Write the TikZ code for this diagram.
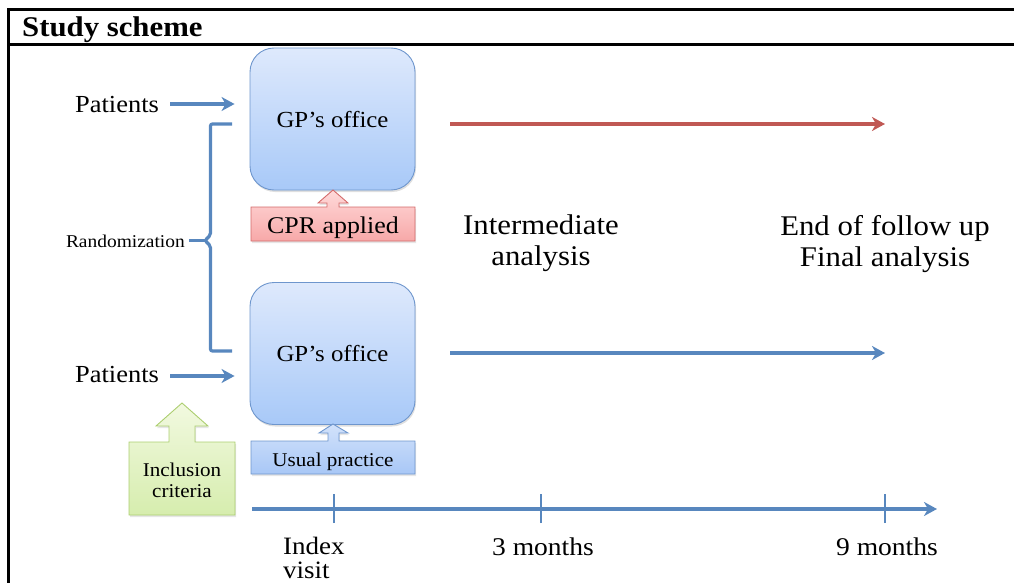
\documentclass[tikz,border=0pt]{standalone}
\usepackage{fontspec}
\setmainfont[FakeStretch=1.08]{Liberation Serif}
\usetikzlibrary{arrows.meta,shadows}
\definecolor{lblue}{RGB}{88,135,190}
\definecolor{lred}{RGB}{192,88,84}
\definecolor{gptop}{RGB}{222,233,252}
\definecolor{gpbot}{RGB}{168,201,248}
\definecolor{gpbd}{RGB}{110,150,205}
\definecolor{cprtop}{RGB}{255,218,218}
\definecolor{cprbot}{RGB}{247,168,168}
\definecolor{cprbd}{RGB}{212,106,106}
\definecolor{ustop}{RGB}{210,226,251}
\definecolor{usbot}{RGB}{168,199,246}
\definecolor{grtop}{RGB}{242,249,224}
\definecolor{grbot}{RGB}{214,237,174}
\definecolor{grbd}{RGB}{172,206,112}
\newcommand\fsz[1]{\fontsize{#1}{#1}\selectfont}
\begin{document}
\begin{tikzpicture}[x=1pt,y=-1pt,
  frame/.style={line width=3pt,black},
  lbl/.style={inner sep=0pt,text=black},
  gpbox/.style={draw=gpbd,line width=0.9pt,rounded corners=24pt,
    minimum width=165pt,minimum height=142pt,inner sep=0pt,
    top color=gptop,bottom color=gpbot,
    drop shadow={shadow xshift=1pt,shadow yshift=-2pt,opacity=0.25},
    font=\fsz{23}},
  tip/.style={-{Stealth[length=13pt,width=14pt,inset=4pt]}},
  bluearr/.style={lblue,line width=3.2pt,tip},
  redarr/.style={lred,line width=3.2pt,tip},
  bluel/.style={lblue,line width=3.2pt},
  cprshape/.style={draw=cprbd,line width=0.9pt,top color=cprtop,bottom color=cprbot,
    drop shadow={shadow xshift=1pt,shadow yshift=-2pt,opacity=0.2}},
  usshape/.style={draw=gpbd,line width=0.9pt,top color=ustop,bottom color=usbot,
    drop shadow={shadow xshift=1pt,shadow yshift=-2pt,opacity=0.2}},
  grshape/.style={draw=grbd,line width=0.9pt,top color=grtop,bottom color=grbot,
    drop shadow={shadow xshift=1pt,shadow yshift=-2pt,opacity=0.2}},
]
\useasboundingbox (0,0) rectangle (1014,583);

% frame
\draw[frame] (8.5,600) -- (8.5,10) -- (1020,10);
\draw[frame] (8.5,45) -- (1020,45);
\node[lbl,anchor=base west,font=\bfseries\fsz{28.5}] (title) at (22,37) {Study scheme};

% GP boxes
\node[gpbox,text depth=0pt] (gp1) at (332.5,119) {GP’s office};
\node[gpbox,text depth=0pt] (gp2) at (332.5,353.5) {GP’s office};

% Patients
\node[lbl,anchor=base,font=\fsz{24.5}] (pat1) at (117,113) {Patients};
\node[lbl,anchor=base,font=\fsz{24.5}] (pat2) at (117,382) {Patients};
\coordinate (y1) at (0,104);
\coordinate (y2) at (0,376);
\draw[bluearr,shorten <=11pt,shorten >=15pt] (pat1.east |- y1) -- (gp1.west |- y1);
\draw[bluearr,shorten <=11pt,shorten >=15pt] (pat2.east |- y2) -- (gp2.west |- y2);

% Randomization bracket
\node[lbl,anchor=base east,font=\fsz{18}] (rand) at (185,247) {Randomization};
\draw[bluel,rounded corners=2pt] (232,124) -- (210.5,124) -- (210.5,235) -- (205,240.5) -- (210.5,246) -- (210.5,351) -- (232,351);
\draw[bluel] (189,240.5) -- (205,240.5);

% CPR applied callout
\path[cprshape] (251,207) -- (327,207) -- (327,203) -- (318,203) -- (333,190) -- (348,203) -- (339,203) -- (339,207) -- (415,207) -- (415,241) -- (251,241) -- cycle;
\node[lbl,anchor=base,font=\fsz{24}] (cpr) at (333,233) {CPR applied};

% Usual practice callout
\path[usshape] (251,441) -- (328,441) -- (328,433) -- (319,433) -- (333,424) -- (348,433) -- (339,433) -- (339,441) -- (415,441) -- (415,474) -- (251,474) -- cycle;
\node[lbl,anchor=base,font=\fsz{19.5}] (usual) at (333,466) {Usual practice};

% Inclusion criteria callout
\path[grshape] (129,442) -- (169,442) -- (169,426) -- (156,426) -- (182,403) -- (208,426) -- (195,426) -- (195,442) -- (235,442) -- (235,515) -- (129,515) -- cycle;
\node[lbl,font={\fontsize{19.5}{21}\selectfont},align=center] (incl) at (182,480) {Inclusion\\criteria};

% follow-up arrows
\coordinate (r1) at (885,124);
\coordinate (b1) at (885,353);
\draw[redarr,shorten <=35pt] (gp1.east |- r1) -- (r1);
\draw[bluearr,shorten <=35pt] (gp2.east |- b1) -- (b1);

% analysis labels
\node[lbl,anchor=north,align=center,font={\fontsize{28.5}{31}\selectfont}] (inter) at (541,215) {Intermediate\\analysis};
\node[lbl,anchor=north,align=center,font={\fontsize{28.5}{31}\selectfont}] (final) at (885,215) {End of follow up\\Final analysis};

% timeline
\coordinate (t0) at (252,509);
\coordinate (t1) at (937,509);
\draw[bluearr] (t0) -- (t1);
\coordinate (k1) at (334,509);
\coordinate (k2) at (541,509);
\coordinate (k3) at (885,509);
\foreach \k in {k1,k2,k3}{\draw[lblue,line width=2.4pt] ([yshift=-14pt]\k) -- ([yshift=15pt]\k);}
\node[lbl,anchor=north west,align=left,font={\fontsize{25}{24}\selectfont}] (idx) at (283,537) {Index\\visit};
\node[lbl,anchor=base,font=\fsz{25.5}] (m3) at (543,555) {3 months};
\node[lbl,anchor=base,font=\fsz{25.5}] (m9) at (887,555) {9 months};
\end{tikzpicture}
\end{document}
